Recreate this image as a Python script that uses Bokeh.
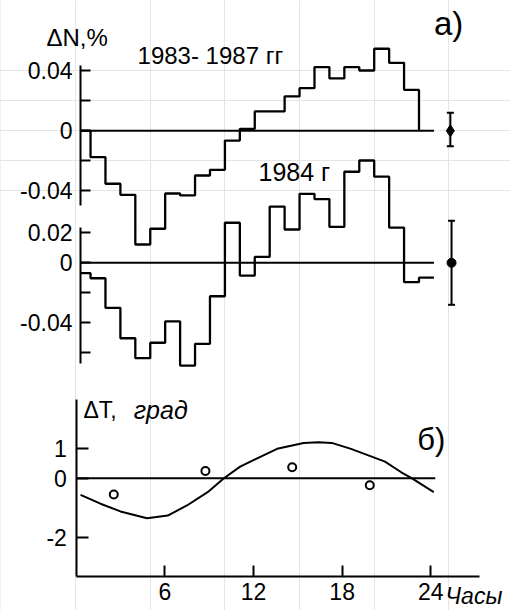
from bokeh.plotting import figure
from bokeh.models import Range1d, LinearAxis, FixedTicker, Label, Whisker, TeeHead, ColumnDataSource
from bokeh.embed import file_html
from bokeh.resources import INLINE

# ---------------- data ----------------
# upper histogram: 1983-1987, hourly bins starting at hours 1..22 (ΔN, %)
upper_hours = list(range(1, 23))
upper_values = [-0.0176, -0.0353, -0.0427, -0.0758, -0.0653, -0.0418, -0.0431,
                -0.0298, -0.0260, -0.0065, 0.0013, 0.0129, 0.0129, 0.0229,
                0.0284, 0.0425, 0.0349, 0.0425, 0.0402, 0.0547, 0.0453, 0.0273]
upper_end_hour = 23

# lower histogram: 1984, hourly bins starting at hours 0..23 (ΔN, %)
lower_hours = list(range(0, 24))
lower_values = [-0.0069, -0.0103, -0.0300, -0.0503, -0.0636, -0.0533, -0.0391,
                -0.0685, -0.0540, -0.0223, 0.0267, -0.0085, 0.0039, 0.0375,
                0.0222, 0.0460, 0.0425, 0.0240, 0.0607, 0.0682, 0.0574,
                0.0235, -0.0129, -0.0099]
lower_end_hour = 24

# error bars (mean 0, spread)
upper_err_hour = [25.1]
upper_err_center = [0.0]
upper_err_low = [-0.0103]
upper_err_high = [0.0120]
lower_err_hour = [25.18]
lower_err_center = [0.0]
lower_err_low = [-0.0280]
lower_err_high = [0.0280]

# temperature curve ΔT, град
temp_curve_hours = [0.3, 1.65, 3.0, 4.8, 6.2, 7.5, 8.9, 10.0, 11.1, 12.5, 13.6,
                    15.4, 16.4, 17.3, 18.6, 20.9, 22.0, 22.7, 24.2]
temp_curve_values = [-0.56, -0.86, -1.12, -1.35, -1.26, -0.92, -0.47, 0.0, 0.39,
                     0.73, 0.99, 1.19, 1.21, 1.19, 0.99, 0.56, 0.20, 0.0, -0.47]
temp_point_hours = [2.55, 8.75, 14.62, 19.87]
temp_point_values = [-0.55, 0.24, 0.37, -0.24]

hist_ticks = [-0.04, -0.02, 0.0, 0.02, 0.04]
hist_tick_labels = {0.04: "0.04", 0.02: "", 0.0: "0", -0.02: "", -0.04: "-0.04"}
lower_ticks = [-0.06, -0.04, -0.02, 0.0, 0.02]
lower_tick_labels = {0.02: "0.02", 0.0: "0", -0.02: "", -0.04: "-0.04", -0.06: ""}
temp_ticks = [-2, 0, 1]
temp_tick_labels = {1: "1", 0: "0", -2: "-2"}
hour_ticks = [6, 12, 18, 24]

# ---------------- figure ----------------
FONT = "Liberation Sans"
W, H = 510, 610

axis_hour = 0.33        # position of the ΔN axes (hours)
temp_axis_hour = 0.05   # position of the ΔT axis (hours)

p = figure(width=W, height=H, output_backend="svg", toolbar_location=None,
           x_axis_location=None, y_axis_location=None,
           x_range=Range1d(-5.030, 29.129), y_range=Range1d(-0.3198, 0.086867),
           min_border=0, min_border_left=0, min_border_right=0,
           min_border_top=0, min_border_bottom=0)
p.extra_x_ranges = {"tx": Range1d(-5.115, 29.391)}
p.extra_y_ranges = {"lower": Range1d(-0.2318, 0.174867),
                    "temp": Range1d(-4.4621, 16.1113)}
p.outline_line_color = None
p.background_fill_color = "white"
p.border_fill_color = "white"


def style_axis(ax, size="23px", tick_len=10, standoff=8):
    ax.axis_line_width = 2
    ax.axis_line_color = "black"
    ax.major_tick_line_width = 2
    ax.major_tick_line_color = "black"
    ax.major_tick_in = tick_len
    ax.major_tick_out = 0
    ax.minor_tick_line_color = None
    ax.major_label_text_font = FONT
    ax.major_label_text_font_size = size
    ax.major_label_text_color = "black"
    ax.major_label_standoff = standoff


ax1 = LinearAxis(fixed_location=axis_hour, bounds=(-0.0498, 0.0435),
                 ticker=FixedTicker(ticks=hist_ticks),
                 major_label_overrides=hist_tick_labels)
style_axis(ax1)
p.add_layout(ax1, "left")

ax2 = LinearAxis(fixed_location=axis_hour, y_range_name="lower", bounds=(-0.0673, 0.0237),
                 ticker=FixedTicker(ticks=lower_ticks),
                 major_label_overrides=lower_tick_labels)
style_axis(ax2)
p.add_layout(ax2, "left")

ax3 = LinearAxis(fixed_location=temp_axis_hour, x_range_name="tx", y_range_name="temp",
                 bounds=(-3.315, 2.654), ticker=FixedTicker(ticks=temp_ticks),
                 major_label_overrides=temp_tick_labels)
style_axis(ax3, tick_len=12, standoff=10)
p.add_layout(ax3, "left")

ax4 = LinearAxis(fixed_location=-3.315, x_range_name="tx", y_range_name="temp",
                 bounds=(temp_axis_hour, 27.27), ticker=FixedTicker(ticks=hour_ticks))
style_axis(ax4, tick_len=11, standoff=7)
p.add_layout(ax4, "below")

# zero lines
p.line([axis_hour, 24], [0, 0], line_color="black", line_width=2)
p.line([axis_hour, 24], [0, 0], y_range_name="lower", line_color="black", line_width=2)
p.line([temp_axis_hour, 24.3], [0, 0], x_range_name="tx", y_range_name="temp",
       line_color="black", line_width=2)

# upper histogram
ux = [axis_hour] + upper_hours + [upper_end_hour]
uy = [0.0] + upper_values + [0.0]
p.step(ux, uy, mode="after", line_color="black", line_width=2.3)

# lower histogram
lx = [axis_hour] + lower_hours[1:] + [lower_end_hour]
ly = lower_values + [lower_values[-1]]
p.step(lx, ly, mode="after", y_range_name="lower", line_color="black", line_width=2.3)

# error bars
for hrs, c, lo, hi, rng, marker, size in [
        (upper_err_hour, upper_err_center, upper_err_low, upper_err_high, "default", "diamond", 12),
        (lower_err_hour, lower_err_center, lower_err_low, lower_err_high, "lower", "circle", 9)]:
    src = ColumnDataSource(dict(base=hrs, lower=lo, upper=hi, c=c))
    w = Whisker(source=src, base="base", lower="lower", upper="upper", dimension="height",
                line_width=2, line_color="black", y_range_name=rng,
                upper_head=TeeHead(size=7, line_width=2, line_color="black"),
                lower_head=TeeHead(size=7, line_width=2, line_color="black"))
    p.add_layout(w)
    p.scatter("base", "c", source=src, marker=marker, size=size, y_range_name=rng,
              fill_color="black", line_color="black")

# temperature
p.line(temp_curve_hours, temp_curve_values, x_range_name="tx", y_range_name="temp",
       line_color="black", line_width=2)
p.scatter(temp_point_hours, temp_point_values, x_range_name="tx", y_range_name="temp",
          marker="circle", size=8, fill_color="white", line_color="black", line_width=2)

# texts
def add_label(text, x, y, size, style="normal", xr="default", yr="default"):
    p.add_layout(Label(x=x, y=y, text=text, x_range_name=xr, y_range_name=yr,
                       text_font=FONT, text_font_size=size, text_font_style=style,
                       text_color="black", text_baseline="alphabetic", text_align="left"))

add_label("ΔN,%", -1.95, 0.062, "24px")
add_label("1983- 1987 гг", 4.15, 0.0500, "24px")
add_label("а)", 24.0, 0.0715, "33px")
add_label("1984 г", 12.25, -0.0273, "25px")
add_label("ΔT,", 0.5, 2.29, "23px", xr="tx", yr="temp")
add_label("град", 3.9, 2.29, "25px", style="italic", xr="tx", yr="temp")
add_label("б)", 23.08, 1.29, "31px", xr="tx", yr="temp")
add_label("Часы", 25.0, -3.98, "23px", style="italic", xr="tx", yr="temp")

open("out.html", "w").write(file_html(p, INLINE))
